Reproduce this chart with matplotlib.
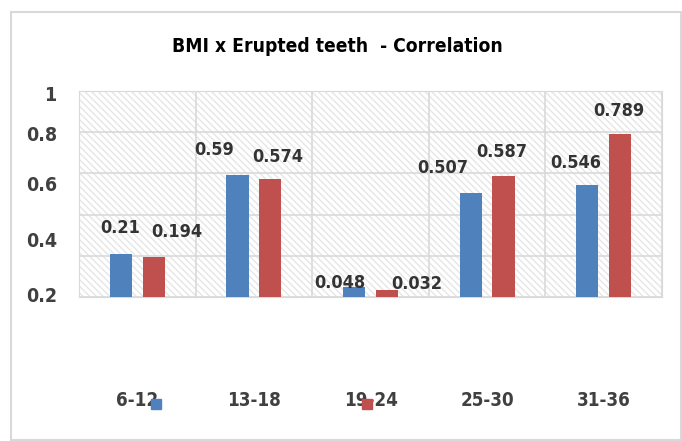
import matplotlib
matplotlib.use("Agg")
import matplotlib.pyplot as plt
from matplotlib.patches import Rectangle
from matplotlib.lines import Line2D
import numpy as np

plt.rcParams['font.family'] = ['DejaVu Sans']
plt.rcParams['font.stretch'] = 'condensed'

# data
ages = ['6-12', '13-18', '19-24', '25-30', '31-36']
series_a = [0.21, 0.59, 0.048, 0.507, 0.546]
series_b = [0.194, 0.574, 0.032, 0.587, 0.789]
# where the value labels sit, offset from the bar top (pixels)
off_a = [(-1, 26), (-23, 25), (-14, 4), (-28, 25), (-12, 22)]
off_b = [(23, 25), (8, 22), (30, 6), (-2, 24), (-1, 23)]
# the y labels as printed in the picture (text, position on the axis)
ylab_text = ['1', '0.8', '0.6', '0.4', '0.2']
ylab_pos = [0.99, 0.796, 0.553, 0.277, 0.01]

blue = '#4F81BD'
red = '#C0504D'
txt = '#404040'

fig = plt.figure(figsize=(6.82, 4.41), dpi=100)
ax = fig.add_axes([79 / 682, 1 - 297 / 441, 583 / 682, 206 / 441])

# hatched background of the plot area
ax.add_patch(Rectangle((0, 0), 1, 1, transform=ax.transAxes, facecolor='white',
                       edgecolor='#e6e6e6', hatch='\\\\\\\\\\', linewidth=0, zorder=0))

x = np.arange(len(ages))
w = 0.19
d = 0.14
bars_a = ax.bar(x - d, series_a, w, color=blue, zorder=3)
bars_b = ax.bar(x + d, series_b, w, color=red, zorder=3)

for bars, vals, offs in [(bars_a, series_a, off_a), (bars_b, series_b, off_b)]:
    for b, v, (dx, dy) in zip(bars, vals, offs):
        ax.annotate(str(v), (b.get_x() + b.get_width() / 2, v),
                    xytext=(dx, dy), textcoords='offset pixels',
                    ha='center', va='center', fontsize=13, fontweight='bold',
                    color='#333333', zorder=5)

ax.set_xlim(-0.5, len(ages) - 0.5)
ax.set_ylim(0, 1)

# grid
for yv in np.arange(0, 1.01, 0.2):
    ax.axhline(yv, color='#d9d9d9', lw=1.2, zorder=1)
for xv in np.arange(-0.5, len(ages), 1):
    ax.axvline(xv, color='#d9d9d9', lw=1.2, zorder=1)
for s in ax.spines.values():
    s.set_color('#d9d9d9')

ax.set_yticks(ylab_pos)
ax.set_yticklabels(ylab_text)
ax.tick_params(axis='y', length=0, pad=16, labelsize=14, labelcolor=txt)
for t in ax.get_yticklabels():
    t.set_fontweight('bold')

ax.set_xticks(x)
ax.set_xticklabels(ages)
ax.tick_params(axis='x', length=0, pad=68, labelsize=13.5, labelcolor=txt)
for t in ax.get_xticklabels():
    t.set_fontweight('bold')

# legend squares
fig.add_artist(Line2D([156 / 682], [1 - 404 / 441], marker='s', markersize=7.5,
                      color=blue, linestyle='none'))
fig.add_artist(Line2D([367 / 682], [1 - 404 / 441], marker='s', markersize=7.5,
                      color=red, linestyle='none'))

fig.text(337 / 682, 1 - 47 / 441, 'BMI x Erupted teeth  - Correlation',
         ha='center', va='center', fontsize=13.8, fontweight='bold', color='black')

# chart border
fig.add_artist(Rectangle((11 / 682, 1 / 441), 670 / 682, 428 / 441,
                         transform=fig.transFigure, fill=False,
                         edgecolor='#d9d9d9', lw=1.5))

fig.savefig('out.png', dpi=100)
